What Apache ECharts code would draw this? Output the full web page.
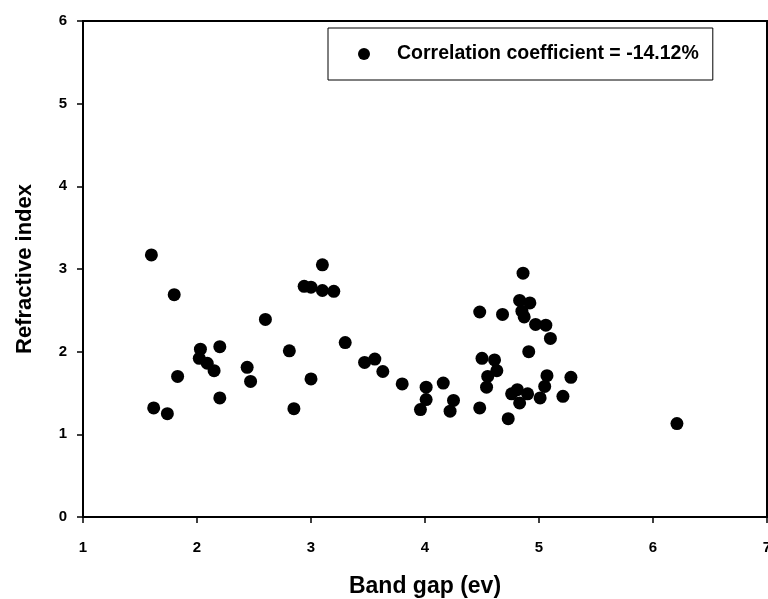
<!DOCTYPE html>
<html>
<head>
<meta charset="utf-8">
<script src="https://cdn.jsdelivr.net/npm/echarts@6/dist/echarts.min.js"></script>
<style>
  html, body { margin: 0; padding: 0; background: #fff; }
  #chart { width: 768px; height: 599px; }
</style>
</head>
<body>
<div id="chart"></div>
<script>
// band gap (ev) vs refractive index
const bandGap = [
  1.60, 1.62, 1.74, 1.80, 1.83, 2.03, 2.02, 2.09, 2.15, 2.20, 2.20, 2.44, 2.47, 2.60,
  2.81, 2.85, 2.94, 3.00, 3.00, 3.10, 3.10, 3.20, 3.30, 3.47, 3.56, 3.63, 3.80,
  3.96, 4.01, 4.01, 4.16, 4.22, 4.25,
  4.48, 4.48, 4.50, 4.54, 4.55, 4.61, 4.63, 4.68, 4.73, 4.76, 4.81, 4.83, 4.83,
  4.85, 4.86, 4.87, 4.90, 4.91, 4.92, 4.97, 5.01, 5.05, 5.06, 5.07, 5.10, 5.21, 5.28,
  6.21
]
const refractiveIndex = [
  3.17, 1.32, 1.25, 2.69, 1.70, 2.03, 1.92, 1.86, 1.77, 2.06, 1.44, 1.81, 1.64, 2.39,
  2.01, 1.31, 2.79, 2.78, 1.67, 3.05, 2.74, 2.73, 2.11, 1.87, 1.91, 1.76, 1.61,
  1.30, 1.57, 1.42, 1.62, 1.28, 1.41,
  2.48, 1.32, 1.92, 1.57, 1.70, 1.90, 1.77, 2.45, 1.19, 1.49, 1.54, 2.62, 1.38,
  2.49, 2.95, 2.42, 1.49, 2.00, 2.59, 2.33, 1.44, 1.58, 2.32, 1.71, 2.16, 1.46, 1.69,
  1.13
]
const legendLabel = 'Correlation coefficient = -14.12%'

const points = bandGap.map((x, i) => [x, refractiveIndex[i]])

const myChart = echarts.init(document.getElementById('chart'))
const font = 'Liberation Sans, Arial, sans-serif'

myChart.setOption({
  animation: false,
  backgroundColor: '#fff',
  grid: {
    left: 83,
    right: 1,
    top: 21,
    bottom: 82,
    outerBoundsMode: 'none',
    containLabel: false,
    show: true,
    borderColor: '#000',
    borderWidth: 2
  },
  legend: {
    left: 328,
    top: 28,
    orient: 'horizontal',
    borderColor: '#000',
    borderWidth: 1,
    borderRadius: 0,
    padding: [16, 14, 16, 30],
    itemWidth: 12,
    itemHeight: 12,
    data: [{ name: legendLabel, icon: 'circle' }],
    textStyle: {
      fontFamily: font,
      fontWeight: 'bold',
      fontSize: 19.5,
      color: '#000',
      padding: [0, 0, 0, 22]
    }
  },
  xAxis: {
    type: 'value',
    min: 1,
    max: 7,
    interval: 1,
    name: 'Band gap (ev)',
    nameLocation: 'middle',
    nameGap: 58,
    nameTextStyle: { fontFamily: font, fontWeight: 'bold', fontSize: 23, color: '#000' },
    axisLine: { show: true, lineStyle: { color: '#000', width: 2 } },
    axisTick: { show: true, inside: false, length: 6, lineStyle: { color: '#000', width: 1.5 } },
    axisLabel: { margin: 23, fontFamily: font, fontWeight: 'bold', fontSize: 15, color: '#000' },
    splitLine: { show: false }
  },
  yAxis: {
    type: 'value',
    min: 0,
    max: 6,
    interval: 1,
    name: 'Refractive index',
    nameLocation: 'middle',
    nameGap: 47,
    nameTextStyle: { fontFamily: font, fontWeight: 'bold', fontSize: 22, color: '#000' },
    axisLine: { show: true, lineStyle: { color: '#000', width: 2 } },
    axisTick: { show: true, inside: false, length: 6, lineStyle: { color: '#000', width: 1.5 } },
    axisLabel: { margin: 16, fontFamily: font, fontWeight: 'bold', fontSize: 15, color: '#000' },
    splitLine: { show: false }
  },
  series: [{
    name: legendLabel,
    type: 'scatter',
    symbol: 'circle',
    symbolSize: 13,
    data: points,
    itemStyle: { color: '#000', opacity: 1 }
  }]
})
</script>
</body>
</html>
